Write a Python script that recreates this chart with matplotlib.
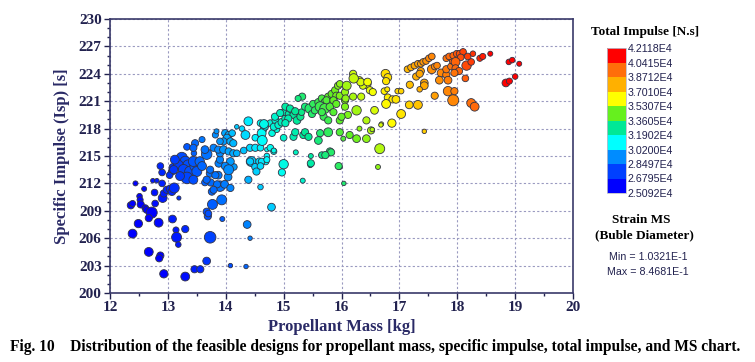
import matplotlib.pyplot as plt
from matplotlib.colors import LinearSegmentedColormap, ListedColormap, BoundaryNorm
from matplotlib.cm import ScalarMappable
from matplotlib.ticker import MultipleLocator

# propellant mass [kg]
mass = [
    12.44, 12.59, 12.36, 12.39, 12.51, 12.52, 12.53, 12.61, 12.63, 12.72,
    12.67, 12.78, 12.77, 12.74, 12.81, 12.90, 12.87, 12.90, 12.91, 12.93,
    12.98, 13.04, 13.07, 13.11, 13.07, 13.03, 13.08, 13.19, 12.84, 12.49,
    12.39, 13.08, 13.14, 13.15, 13.18, 13.30, 12.67, 12.87, 12.85, 12.93,
    13.30, 13.46, 13.56, 13.67, 13.73, 13.94, 13.69, 13.67, 13.70, 13.77,
    13.93, 13.76, 13.74, 13.64, 13.73, 13.87, 13.90, 13.98, 14.04, 14.07,
    14.14, 13.88, 13.90, 13.90, 13.67, 14.37, 14.42, 14.08, 14.35, 14.39,
    14.60, 14.79, 15.00, 14.97, 14.44, 14.51, 14.53, 14.58, 14.69, 14.71,
    14.31, 13.24, 13.30, 13.35, 13.18, 13.27, 13.38, 13.47, 13.44, 13.50,
    13.12, 13.10, 13.33, 13.21, 13.44, 13.55, 13.59, 13.45, 13.64, 13.79,
    13.87, 13.96, 14.05, 14.13, 14.19, 14.08, 13.99, 14.05, 13.73, 13.82,
    13.67, 13.85, 13.79, 14.08, 13.47, 13.33, 13.44, 13.59, 13.82, 13.99,
    14.05, 14.11, 14.02, 13.96, 14.08, 14.13, 13.90, 14.19, 14.28, 14.39,
    14.34, 14.51, 14.42, 14.51, 14.60, 14.71, 14.42, 14.62, 14.71, 14.60,
    14.60, 14.65, 14.62, 14.68, 14.77, 14.80, 14.88, 14.88, 14.77, 14.83,
    13.84, 14.66, 14.86, 14.83, 14.91, 14.97, 15.03, 15.00, 15.09, 15.14,
    15.17, 15.23, 15.29, 15.31, 15.37, 15.45, 15.49, 15.51, 15.54, 15.60,
    15.66, 15.71, 15.77, 15.83, 15.89, 15.94, 15.97, 15.91, 15.63, 15.71,
    15.80, 15.86, 15.69, 15.66, 15.74, 15.86, 15.91, 15.97, 16.06, 16.09,
    16.06, 16.06, 16.26, 16.11, 15.97, 15.77, 16.20, 16.31, 16.43, 16.37,
    16.49, 16.54, 16.57, 16.69, 16.43, 16.31, 16.51, 16.14, 16.26, 16.43,
    16.03, 15.77, 15.63, 15.60, 15.34, 15.37, 15.43, 15.17, 15.20, 16.66,
    15.80, 15.66, 15.97, 14.63, 14.83, 15.46, 16.63, 15.97, 14.85, 14.94,
    15.03, 15.11, 15.20, 15.08, 15.00, 15.03, 15.32, 15.25, 16.76, 16.80,
    16.77, 16.74, 16.80, 16.88, 16.94, 16.77, 16.97, 17.03, 17.03, 16.87,
    16.68, 17.43, 17.14, 17.20, 17.26, 17.32, 17.37, 17.41, 17.46, 17.51,
    17.56, 17.56, 17.61, 17.65, 17.29, 17.37, 17.35, 17.18, 17.43, 17.43,
    17.35, 17.17, 17.32, 17.61, 17.72, 17.69, 17.81, 17.84, 17.81, 17.89,
    17.92, 17.81, 17.86, 17.93, 17.99, 18.04, 18.10, 18.06, 17.97, 17.97,
    18.03, 17.95, 18.16, 18.24, 18.18, 18.27, 18.39, 18.44, 18.57, 18.14,
    17.84, 17.93, 17.95, 18.24, 18.30, 18.89, 18.95, 19.07, 18.84, 18.90,
    19.00, 16.33, 16.45, 16.79, 16.21, 16.07, 16.20, 16.34, 16.53, 16.00,
    15.82, 15.72, 15.95, 15.47, 15.47, 15.21, 15.33, 16.04,
]

# specific impulse [s]
isp = [
    212.0, 211.4, 209.6, 209.8, 210.6, 210.2, 209.7, 209.3, 209.1, 208.8,
    208.2, 209.8, 211.0, 212.3, 212.3, 212.0, 213.9, 213.2, 210.4, 210.9,
    211.3, 211.4, 211.1, 211.5, 213.3, 212.9, 213.8, 210.4, 207.7, 207.6,
    206.5, 208.1, 206.9, 206.1, 205.3, 207.0, 204.5, 204.1, 203.8, 202.1,
    201.8, 202.6, 202.6, 203.5, 206.1, 208.1, 208.4, 208.9, 208.7, 209.7,
    210.2, 211.1, 212.1, 212.1, 213.1, 212.9, 211.7, 211.9, 212.7, 213.8,
    213.8, 214.2, 214.6, 215.3, 215.2, 207.5, 206.0, 203.0, 202.9, 212.4,
    211.6, 209.4, 214.1, 213.2, 214.4, 213.8, 213.3, 214.4, 214.4, 215.0,
    215.6, 214.8, 214.4, 214.0, 214.0, 213.5, 213.3, 213.9, 214.4, 213.3,
    214.6, 213.5, 212.6, 212.8, 212.4, 214.4, 213.9, 215.3, 215.7, 215.9,
    215.7, 215.7, 215.5, 215.3, 215.3, 214.4, 213.9, 213.5, 213.5, 212.9,
    212.4, 211.9, 211.3, 211.5, 216.4, 216.0, 215.9, 216.8, 217.3, 217.5,
    217.3, 217.5, 217.0, 216.6, 216.6, 216.4, 216.6, 218.2, 218.0, 218.8,
    217.3, 217.0, 215.9, 215.9, 215.9, 215.7, 214.4, 214.4, 214.6, 213.9,
    218.6, 217.9, 217.5, 218.2, 218.6, 217.5, 217.9, 218.8, 215.9, 215.5,
    217.7, 218.5, 218.9, 218.2, 218.4, 218.7, 219.1, 219.8, 219.6, 220.0,
    219.5, 218.9, 219.3, 219.8, 220.4, 220.2, 219.6, 220.7, 220.0, 220.9,
    221.3, 220.9, 221.5, 221.8, 222.2, 222.7, 222.9, 221.6, 220.4, 220.2,
    220.4, 219.8, 219.3, 219.8, 221.1, 221.1, 220.7, 221.6, 222.0, 222.7,
    221.1, 220.4, 220.0, 219.5, 218.9, 218.9, 224.0, 223.3, 222.9, 222.7,
    222.2, 222.0, 220.0, 218.5, 218.9, 218.0, 217.8, 217.3, 216.9, 216.9,
    216.9, 217.6, 217.5, 216.7, 217.3, 217.6, 217.1, 217.1, 217.6, 215.8,
    215.5, 215.1, 213.8, 216.7, 215.6, 214.0, 213.8, 217.6, 219.3, 219.7,
    220.4, 220.2, 219.9, 219.1, 217.0, 218.6, 221.5, 221.3, 224.0, 223.6,
    223.2, 222.1, 221.4, 221.2, 221.2, 220.7, 222.1, 222.1, 219.6, 218.6,
    218.4, 217.7, 224.5, 224.7, 224.9, 225.1, 225.1, 225.3, 225.4, 225.7,
    225.9, 224.5, 224.8, 224.9, 223.7, 224.3, 224.0, 222.8, 223.0, 222.7,
    222.3, 220.6, 220.6, 221.6, 224.1, 223.3, 223.9, 223.3, 224.5, 224.8,
    225.4, 225.7, 225.9, 226.0, 226.2, 226.2, 226.4, 225.8, 225.3, 224.6,
    224.3, 224.1, 224.9, 225.3, 225.9, 226.2, 225.7, 225.9, 226.2, 223.5,
    222.1, 221.1, 222.1, 220.8, 220.4, 225.3, 225.5, 225.1, 223.0, 223.2,
    223.7, 223.1, 223.1, 222.3, 223.5, 221.3, 221.5, 221.5, 217.9, 219.3,
    215.4, 215.1, 213.9, 215.0, 214.2, 215.4, 212.3, 212.0,
]

# total impulse [x1E4 N.s]
impulse = [
    2.59, 2.61, 2.54, 2.55, 2.58, 2.58, 2.58, 2.59, 2.59, 2.60,
    2.59, 2.63, 2.64, 2.65, 2.67, 2.68, 2.70, 2.70, 2.66, 2.67,
    2.69, 2.70, 2.70, 2.72, 2.73, 2.72, 2.74, 2.72, 2.61, 2.54,
    2.51, 2.67, 2.66, 2.66, 2.65, 2.70, 2.54, 2.57, 2.57, 2.56,
    2.63, 2.67, 2.69, 2.73, 2.77, 2.84, 2.80, 2.80, 2.80, 2.83,
    2.87, 2.85, 2.86, 2.84, 2.87, 2.89, 2.88, 2.90, 2.93, 2.95,
    2.96, 2.91, 2.92, 2.93, 2.88, 2.92, 2.91, 2.80, 2.85, 2.99,
    3.03, 3.03, 3.15, 3.13, 3.03, 3.04, 3.04, 3.06, 3.09, 3.10,
    3.02, 2.79, 2.80, 2.80, 2.76, 2.78, 2.80, 2.82, 2.82, 2.82,
    2.76, 2.74, 2.78, 2.75, 2.80, 2.85, 2.85, 2.84, 2.88, 2.92,
    2.93, 2.95, 2.97, 2.98, 2.99, 2.96, 2.93, 2.94, 2.87, 2.88,
    2.85, 2.88, 2.86, 2.92, 2.86, 2.82, 2.85, 2.89, 2.94, 2.98,
    2.99, 3.01, 2.98, 2.96, 2.99, 3.00, 2.95, 3.03, 3.05, 3.08,
    3.05, 3.09, 3.05, 3.07, 3.09, 3.11, 3.03, 3.07, 3.10, 3.06,
    3.13, 3.13, 3.12, 3.14, 3.17, 3.16, 3.18, 3.19, 3.13, 3.14,
    2.95, 3.14, 3.19, 3.17, 3.19, 3.21, 3.23, 3.23, 3.25, 3.27,
    3.27, 3.27, 3.29, 3.30, 3.32, 3.34, 3.34, 3.36, 3.35, 3.38,
    3.40, 3.40, 3.43, 3.44, 3.46, 3.48, 3.49, 3.46, 3.38, 3.39,
    3.41, 3.42, 3.37, 3.38, 3.41, 3.44, 3.44, 3.47, 3.50, 3.51,
    3.48, 3.47, 3.51, 3.47, 3.43, 3.38, 3.56, 3.57, 3.59, 3.57,
    3.59, 3.60, 3.57, 3.58, 3.53, 3.49, 3.53, 3.44, 3.46, 3.49,
    3.41, 3.36, 3.33, 3.32, 3.27, 3.28, 3.28, 3.23, 3.24, 3.53,
    3.34, 3.30, 3.35, 3.11, 3.14, 3.24, 3.49, 3.41, 3.19, 3.22,
    3.25, 3.26, 3.28, 3.24, 3.19, 3.22, 3.33, 3.31, 3.68, 3.68,
    3.67, 3.65, 3.65, 3.66, 3.67, 3.63, 3.70, 3.71, 3.67, 3.62,
    3.57, 3.72, 3.77, 3.79, 3.81, 3.82, 3.83, 3.85, 3.86, 3.88,
    3.89, 3.87, 3.88, 3.89, 3.79, 3.82, 3.81, 3.75, 3.81, 3.80,
    3.78, 3.71, 3.74, 3.83, 3.89, 3.87, 3.91, 3.91, 3.92, 3.94,
    3.96, 3.94, 3.96, 3.97, 3.99, 4.00, 4.02, 4.00, 3.97, 3.96,
    3.97, 3.94, 4.01, 4.03, 4.03, 4.05, 4.07, 4.08, 4.12, 3.98,
    3.89, 3.89, 3.91, 3.95, 3.96, 4.17, 4.19, 4.21, 4.12, 4.14,
    4.17, 3.57, 3.60, 3.66, 3.55, 3.49, 3.52, 3.55, 3.53, 3.44,
    3.34, 3.32, 3.35, 3.26, 3.25, 3.21, 3.19, 3.33,
]

# strain margin of safety (bubble diameter)
strain_ms = [
    0.20, 0.20, 0.40, 0.30, 0.25, 0.30, 0.40, 0.35, 0.35, 0.75,
    0.40, 0.35, 0.35, 0.15, 0.15, 0.35, 0.35, 0.35, 0.55, 0.40,
    0.40, 0.45, 0.45, 0.65, 0.40, 0.35, 0.35, 0.12, 0.55, 0.50,
    0.55, 0.45, 0.30, 0.65, 0.25, 0.40, 0.55, 0.40, 0.40, 0.50,
    0.55, 0.40, 0.40, 0.45, 0.80, 0.20, 0.40, 0.40, 0.35, 0.65,
    0.65, 0.40, 0.40, 0.35, 0.45, 0.45, 0.70, 0.45, 0.45, 0.60,
    0.35, 0.45, 0.40, 0.40, 0.70, 0.45, 0.15, 0.15, 0.15, 0.40,
    0.25, 0.45, 0.60, 0.40, 0.65, 0.40, 0.40, 0.40, 0.35, 0.25,
    0.35, 0.75, 0.70, 0.70, 0.65, 0.70, 0.70, 0.70, 0.65, 0.65,
    0.55, 0.50, 0.80, 0.55, 0.55, 0.60, 0.55, 0.25, 0.45, 0.40,
    0.40, 0.45, 0.40, 0.40, 0.35, 0.45, 0.45, 0.65, 0.40, 0.40,
    0.40, 0.40, 0.40, 0.40, 0.40, 0.35, 0.40, 0.30, 0.30, 0.40,
    0.40, 0.35, 0.40, 0.40, 0.40, 0.40, 0.35, 0.15, 0.25, 0.55,
    0.55, 0.35, 0.40, 0.40, 0.35, 0.15, 0.40, 0.35, 0.30, 0.35,
    0.35, 0.35, 0.55, 0.35, 0.35, 0.35, 0.30, 0.30, 0.35, 0.30,
    0.20, 0.55, 0.40, 0.40, 0.40, 0.45, 0.40, 0.35, 0.40, 0.35,
    0.40, 0.45, 0.40, 0.35, 0.40, 0.60, 0.40, 0.40, 0.40, 0.40,
    0.40, 0.40, 0.40, 0.40, 0.40, 0.40, 0.35, 0.40, 0.65, 0.65,
    0.45, 0.40, 0.40, 0.40, 0.40, 0.40, 0.40, 0.40, 0.40, 0.55,
    0.40, 0.40, 0.60, 0.40, 0.40, 0.40, 0.40, 0.40, 0.60, 0.40,
    0.40, 0.40, 0.45, 0.15, 0.40, 0.20, 0.40, 0.40, 0.45, 0.45,
    0.20, 0.55, 0.40, 0.45, 0.40, 0.40, 0.40, 0.40, 0.40, 0.65,
    0.40, 0.35, 0.20, 0.65, 0.20, 0.20, 0.20, 0.40, 0.40, 0.40,
    0.40, 0.40, 0.40, 0.40, 0.35, 0.40, 0.40, 0.30, 0.55, 0.45,
    0.40, 0.35, 0.40, 0.40, 0.45, 0.55, 0.25, 0.25, 0.55, 0.50,
    0.15, 0.15, 0.35, 0.35, 0.35, 0.35, 0.35, 0.35, 0.35, 0.35,
    0.35, 0.55, 0.35, 0.35, 0.40, 0.40, 0.40, 0.40, 0.45, 0.45,
    0.25, 0.45, 0.55, 0.40, 0.45, 0.45, 0.40, 0.45, 0.40, 0.35,
    0.35, 0.35, 0.35, 0.35, 0.35, 0.35, 0.35, 0.35, 0.55, 0.40,
    0.40, 0.40, 0.60, 0.35, 0.35, 0.25, 0.30, 0.30, 0.20, 0.35,
    0.60, 0.75, 0.40, 0.55, 0.55, 0.25, 0.25, 0.20, 0.45, 0.30,
    0.25, 0.45, 0.45, 0.20, 0.60, 0.40, 0.40, 0.40, 0.15, 0.40,
    0.40, 0.40, 0.40, 0.20, 0.40, 0.20, 0.20, 0.15,
]

bounds = [2.5092, 2.6795, 2.8497, 3.0200, 3.1902, 3.3605,
          3.5307, 3.7010, 3.8712, 4.0415, 4.2118]
bound_labels = ["2.5092E4", "2.6795E4", "2.8497E4", "3.0200E4", "3.1902E4", "3.3605E4",
                "3.5307E4", "3.7010E4", "3.8712E4", "4.0415E4", "4.2118E4"]
band_colors = ["#0000ff", "#0040ff", "#008cff", "#00ffff", "#00e896",
               "#66f01e", "#ffff00", "#ffb000", "#ff6e0a", "#ff0000"]
yticks = list(range(200, 231, 3))

navy = "#22224f"
serif = ["Liberation Serif", "DejaVu Serif"]
sans = ["Liberation Sans", "DejaVu Sans"]

fig = plt.figure(figsize=(7.55, 3.62), dpi=100)
ax = fig.add_axes([0.1457, 0.1906, 0.6133, 0.7569])

# smooth colour scale whose nodes sit in the middle of each legend band
nodes = [(0.0, band_colors[0])]
for i, col in enumerate(band_colors):
    nodes.append(((i + 0.5) / len(band_colors), col))
nodes.append((1.0, band_colors[-1]))
cmap = LinearSegmentedColormap.from_list("imp", nodes)

sizes = [((2.8 + m * 11) * 0.72) ** 2 for m in strain_ms]
ax.scatter(mass, isp, s=sizes, c=impulse, cmap=cmap, vmin=bounds[0], vmax=bounds[-1],
           edgecolors="#333344", linewidths=0.6, zorder=3)

ax.set_xlim(12, 20)
ax.set_ylim(200, 230)
ax.xaxis.set_major_locator(MultipleLocator(1))
ax.xaxis.set_minor_locator(MultipleLocator(0.5))
ax.set_yticks(yticks)
ax.yaxis.set_minor_locator(MultipleLocator(1))
ax.grid(True, which="major", color="#9a9ac0", linestyle=(0, (2, 2)), linewidth=0.8, zorder=0)
ax.tick_params(which="major", direction="out", length=4, width=1, color=navy, pad=2)
ax.tick_params(which="minor", direction="out", length=2.5, width=1, color=navy)
for sp in ax.spines.values():
    sp.set_color("#3a3a6a")
    sp.set_linewidth(1.2)
for lab in ax.get_xticklabels() + ax.get_yticklabels():
    lab.set_family(serif)
    lab.set_fontweight("bold")
    lab.set_fontsize(11)
    lab.set_color(navy)

ax.set_xlabel("Propellant Mass [kg]", family=serif, fontweight="bold", fontsize=12,
              color="#2a2a66", labelpad=3)
ax.set_ylabel("Specific Impulse (Isp) [s]", family=serif, fontweight="bold", fontsize=12,
              color="#2a2a66", labelpad=6)

# colour legend
cax = fig.add_axes([607 / 755, 1 - 193 / 362, 19 / 755, 145 / 362])
sm = ScalarMappable(norm=BoundaryNorm(bounds, len(band_colors)), cmap=ListedColormap(band_colors))
cb = fig.colorbar(sm, cax=cax, ticks=bounds)
cb.ax.set_yticklabels(bound_labels)
cb.ax.tick_params(length=0, pad=1)
cb.outline.set_edgecolor("#bbbbcc")
cb.outline.set_linewidth(0.6)
for lab in cb.ax.get_yticklabels():
    lab.set_family(sans)
    lab.set_fontsize(7.7)
    lab.set_color(navy)

fig.text(0.854, 0.912, "Total Impulse [N.s]", family=serif, fontweight="bold", fontsize=9.5,
         ha="center", va="center", color="black")
fig.text(0.850, 0.392, "Strain MS", family=serif, fontweight="bold", fontsize=9.5,
         ha="center", va="center", color="black")
fig.text(0.853, 0.351, "(Buble Diameter)", family=serif, fontweight="bold", fontsize=9.5,
         ha="center", va="center", color="black")
fig.text(0.858, 0.290, "Min = 1.0321E-1", family=sans, fontsize=7.7,
         ha="center", va="center", color=navy)
fig.text(0.858, 0.249, "Max = 8.4681E-1", family=sans, fontsize=7.7,
         ha="center", va="center", color=navy)

fig.text(0.013, 0.041, "Fig. 10    Distribution of the feasible designs for propellant mass, "
         "specific impulse, total impulse, and MS chart.",
         family=serif, fontweight="bold", fontsize=11.2, ha="left", va="center", color="black")

fig.savefig("out.png", dpi=100)
plt.close(fig)
